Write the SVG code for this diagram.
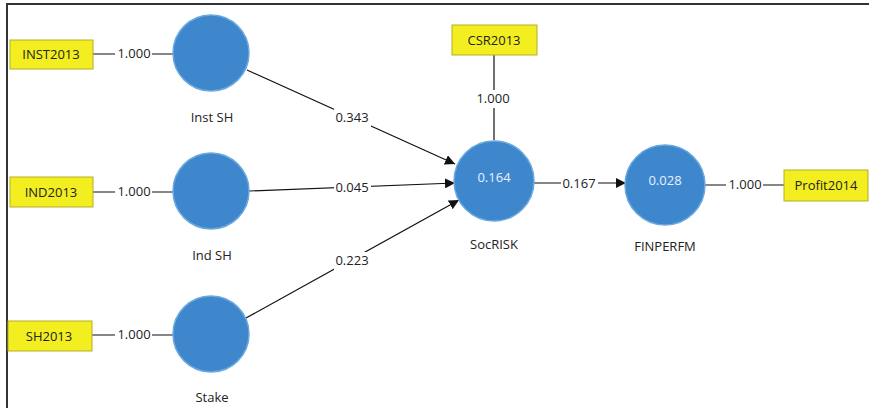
<svg xmlns="http://www.w3.org/2000/svg" width="869" height="408" viewBox="0 0 869 408">
<style>
.ind{fill:#f2ee1f;stroke:#b5ad28;stroke-width:1}
.lv{fill:#3f87cc;stroke:#6aa8e0;stroke-width:1.5}
.t{font-family:"Open Sans","Liberation Sans",sans-serif;font-size:13px;fill:#222;text-anchor:middle}
.w{font-family:"Open Sans","Liberation Sans",sans-serif;font-size:13px;fill:#e8f0ff;text-anchor:middle}
.ln{stroke:#111;stroke-width:1.2;fill:none}
.bg{fill:#fff}
</style>
<defs>
<marker id="ah" viewBox="0 0 10 10" refX="10" refY="5" markerWidth="10" markerHeight="10" markerUnits="userSpaceOnUse" orient="auto">
<path d="M0,0 L10,5 L0,10 z" fill="#111"/>
</marker>
</defs>
<rect width="869" height="408" fill="#fff"/>
<path d="M7,408 V4 H869" fill="none" stroke="#333" stroke-width="2"/>
<g id="connectors">
<line class="ln" x1="93" y1="54" x2="173" y2="54"/>
<line class="ln" x1="93" y1="192" x2="173" y2="192"/>
<line class="ln" x1="92" y1="335" x2="173" y2="335"/>
<line class="ln" x1="494" y1="55" x2="494" y2="140"/>
<line class="ln" x1="705" y1="185" x2="784" y2="185"/>
<line class="ln" x1="247" y1="70" x2="455" y2="164" marker-end="url(#ah)"/>
<line class="ln" x1="249" y1="191" x2="455" y2="183" marker-end="url(#ah)"/>
<line class="ln" x1="246" y1="318" x2="459" y2="200" marker-end="url(#ah)"/>
<line class="ln" x1="534" y1="183" x2="626" y2="183" marker-end="url(#ah)"/>
<rect class="bg" x="115" y="45" width="37" height="18"/>
<text class="t" x="134" y="58">1.000</text>
<rect class="bg" x="115" y="183" width="37" height="18"/>
<text class="t" x="134" y="196">1.000</text>
<rect class="bg" x="115" y="326" width="37" height="18"/>
<text class="t" x="134" y="339">1.000</text>
<rect class="bg" x="474" y="90" width="37" height="18"/>
<text class="t" x="493" y="103">1.000</text>
<rect class="bg" x="726" y="176" width="37" height="18"/>
<text class="t" x="745" y="189">1.000</text>
<rect class="bg" x="334" y="109" width="37" height="18"/>
<text class="t" x="352" y="122">0.343</text>
<rect class="bg" x="334" y="179" width="37" height="18"/>
<text class="t" x="352" y="192">0.045</text>
<rect class="bg" x="334" y="252" width="37" height="18"/>
<text class="t" x="352" y="265">0.223</text>
<rect class="bg" x="561" y="175" width="37" height="18"/>
<text class="t" x="579" y="188">0.167</text>
</g>
<g id="INST2013"><rect class="ind" x="10" y="40" width="83" height="29"/><text class="t" x="51" y="59">INST2013</text></g>
<g id="IND2013"><rect class="ind" x="10" y="177" width="83" height="30"/><text class="t" x="51" y="197">IND2013</text></g>
<g id="SH2013"><rect class="ind" x="8" y="321" width="84" height="30"/><text class="t" x="49" y="341">SH2013</text></g>
<g id="CSR2013"><rect class="ind" x="452" y="25" width="85" height="30"/><text class="t" x="494" y="45">CSR2013</text></g>
<g id="Profit2014"><rect class="ind" x="784" y="170" width="84" height="31"/><text class="t" x="826" y="190">Profit2014</text></g>
<g id="InstSH"><circle class="lv" cx="211" cy="53" r="38"/><text class="t" x="212" y="122">Inst SH</text></g>
<g id="IndSH"><circle class="lv" cx="211" cy="191" r="38"/><text class="t" x="212" y="260">Ind SH</text></g>
<g id="Stake"><circle class="lv" cx="211" cy="334" r="38"/><text class="t" x="212" y="402">Stake</text></g>
<g id="SocRISK"><circle class="lv" cx="494" cy="181" r="40"/><text class="w" x="494" y="182">0.164</text><text class="t" x="494" y="249">SocRISK</text></g>
<g id="FINPERFM"><circle class="lv" cx="665" cy="185" r="40"/><text class="w" x="665" y="185">0.028</text><text class="t" x="665" y="251">FINPERFM</text></g>
</svg>
